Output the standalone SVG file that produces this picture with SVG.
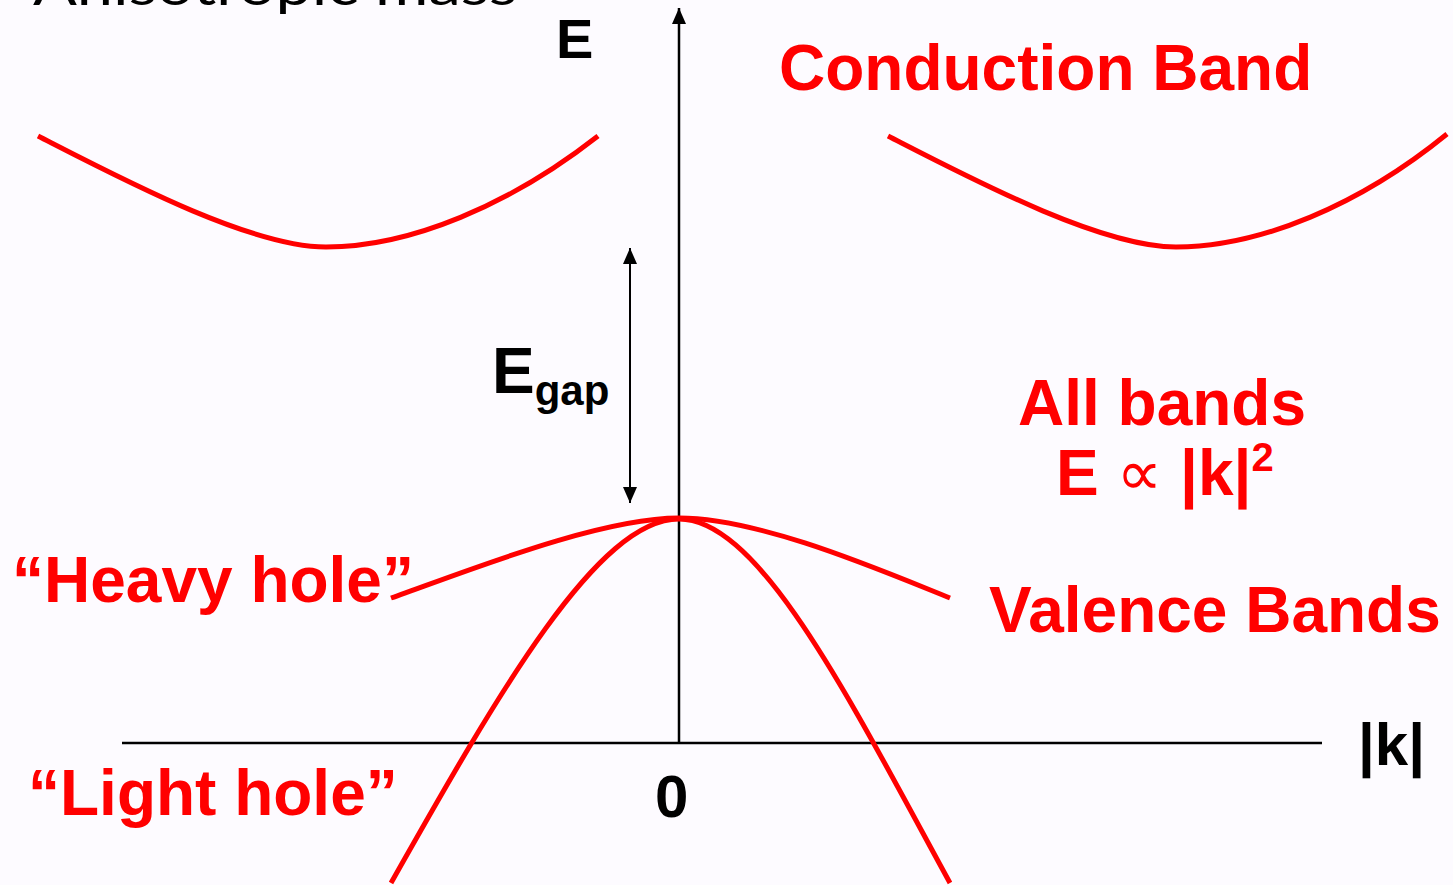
<svg xmlns="http://www.w3.org/2000/svg" width="1453" height="885" viewBox="0 0 1453 885">
  <style>
    .lbl { font-family: "Liberation Sans", Arial, sans-serif; font-weight: bold; }
    .red { fill: #ff0000; }
    .blk { fill: #000000; }
    .band { fill: none; stroke: #ff0000; stroke-width: 5; }
    .axis { fill: none; stroke: #000000; stroke-width: 2.5; }
  </style>
  <defs>
    <marker id="ah2" viewBox="0 0 16 14" refX="16" refY="7" markerWidth="16" markerHeight="14" markerUnits="userSpaceOnUse" orient="auto-start-reverse">
      <path d="M0,0 L16,7 L0,14 Z" fill="#000"/>
    </marker>
  </defs>
  <rect width="1453" height="885" fill="#fdfbff"/>

  <text x="33" y="5" font-family="Lato, 'DejaVu Sans', sans-serif" font-size="52" fill="#000" textLength="484" lengthAdjust="spacingAndGlyphs">Anisotropic mass</text>

  <g id="connectors">
    <line class="axis" x1="679" y1="743" x2="679" y2="8" marker-end="url(#ah2)"/>
    <line class="axis" x1="122" y1="743" x2="1322" y2="743"/>
    <line id="gap-arrow" x1="630" y1="503" x2="630" y2="248" stroke="#000" stroke-width="2" marker-start="url(#ah2)" marker-end="url(#ah2)"/>
  </g>

  <g id="conduction-left">
    <path class="band" d="M38,136 C120,178 250,247 326,247 C410,247 510,205 598,136"/>
  </g>
  <g id="conduction-right">
    <path class="band" d="M888,136 C970,178 1100,247 1176,247 C1260,247 1360,205 1447,134"/>
  </g>
  <g id="heavy-hole">
    <path class="band" d="M391,598 C470,570 600,518 679,518 C760,518 880,570 950,598"/>
  </g>
  <g id="light-hole">
    <path class="band" d="M391,883 C500,690 598,519 679,519 C760,519 850,700 950,883"/>
  </g>

  <g id="label-E"><text class="lbl blk" x="556" y="58" font-size="56">E</text></g>
  <g id="label-conduction"><text class="lbl red" x="779" y="90" font-size="64">Conduction Band</text></g>
  <g id="label-egap"><text class="lbl blk" x="492" y="393" font-size="64">E<tspan font-size="42" dy="12">gap</tspan></text></g>
  <g id="label-allbands">
    <text class="lbl red" x="1162" y="425" font-size="64" text-anchor="middle">All bands</text>
    <text class="lbl red" x="1056" y="495" font-size="64">E <tspan font-weight="normal" font-family="'DejaVu Sans', sans-serif" font-size="64">∝</tspan> |k|<tspan font-size="40" dy="-24">2</tspan></text>
  </g>
  <g id="label-heavy"><text class="lbl red" x="12" y="602" font-size="64">“Heavy hole”</text></g>
  <g id="label-valence"><text class="lbl red" x="989" y="632" font-size="64">Valence Bands</text></g>
  <g id="label-light"><text class="lbl red" x="28" y="815" font-size="64">“Light hole”</text></g>
  <g id="label-zero"><text class="lbl blk" x="655" y="817" font-size="60">0</text></g>
  <g id="label-k"><text class="lbl blk" x="1358" y="765" font-size="60">|k|</text></g>
</svg>
